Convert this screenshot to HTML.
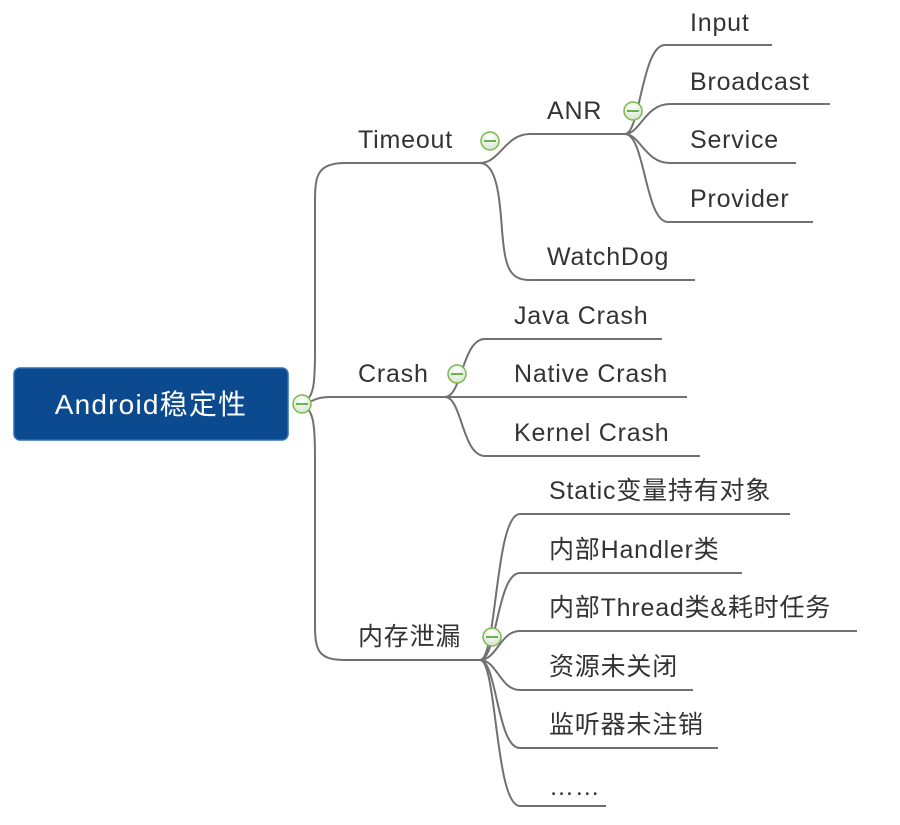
<!DOCTYPE html>
<html><head><meta charset="utf-8"><style>
html,body{margin:0;padding:0;background:#fff;}
svg{display:block}
text{font-family:"Liberation Sans","Noto Sans CJK SC",sans-serif;font-size:25px;fill:#333;letter-spacing:0.8px;}
</style></head><body>
<svg width="900" height="825" viewBox="0 0 900 825" xmlns="http://www.w3.org/2000/svg">
<defs>
<radialGradient id="g" cx="50%" cy="30%" r="70%"><stop offset="0" stop-color="#ffffff"/><stop offset="1" stop-color="#d6e4d0"/></radialGradient>
</defs>
<g fill="none" stroke="#707070" stroke-width="2">
<path d="M300 404 C312 404 312 397 330 397 L445 397"/>
<path d="M306 400 C314 396 315 380 315 350 L315 200 C315 175 318 163 345 163 L480 163"/>
<path d="M306 408 C314 412 315 430 315 460 L315 625 C315 650 318 660 345 660 L480 660"/>
<path d="M480 163 C500 163 505 134 530 134 L625 134"/>
<path d="M480 163 C497 163 500 200 502 230 C505 265 508 280 530 280 L695 280"/>
<path d="M625 134 C640 134 642 45 665 45 L772 45"/>
<path d="M625 134 C640 134 645 104 670 104 L830 104"/>
<path d="M625 134 C640 134 645 163 670 163 L796 163"/>
<path d="M625 134 C645 134 645 222 668 222 L813 222"/>
<path d="M445 397 C462 397 462 339 485 339 L662 339"/>
<path d="M445 397 L687 397"/>
<path d="M445 397 C462 397 462 456 485 456 L700 456"/>
<path d="M480 660 C497 660 495 514 520 514 L790 514"/>
<path d="M480 660 C497 660 497 573 520 573 L742 573"/>
<path d="M480 660 C497 660 500 631 520 631 L857 631"/>
<path d="M480 660 C497 660 500 690 520 690 L693 690"/>
<path d="M480 660 C497 660 497 748 520 748 L718 748"/>
<path d="M480 660 C497 660 495 806 520 806 L606 806"/>
</g>
<rect x="14" y="368" width="274" height="72" rx="6" fill="#0b4a8f" stroke="#2c6fb8" stroke-width="1.5"/>
<text x="151" y="414" text-anchor="middle" style="fill:#fff;font-size:28px;letter-spacing:1.2px">Android稳定性</text>
<g stroke="#7cba4a" stroke-width="1.5" fill="url(#g)">
<circle cx="302" cy="404" r="9"/><circle cx="490" cy="141" r="9"/><circle cx="633" cy="111" r="9"/>
<circle cx="457" cy="374" r="9"/><circle cx="492" cy="637" r="9"/>
</g>
<g stroke="#3d9a1f" stroke-width="1.5">
<line x1="296" y1="404" x2="308" y2="404"/><line x1="484" y1="141" x2="496" y2="141"/>
<line x1="627" y1="111" x2="639" y2="111"/><line x1="451" y1="374" x2="463" y2="374"/>
<line x1="486" y1="637" x2="498" y2="637"/>
</g>
<text x="358" y="148">Timeout</text>
<text x="358" y="382">Crash</text>
<text x="358" y="645">内存泄漏</text>
<text x="547" y="119">ANR</text>
<text x="547" y="265">WatchDog</text>
<text x="690" y="31">Input</text>
<text x="690" y="90">Broadcast</text>
<text x="690" y="148">Service</text>
<text x="690" y="207">Provider</text>
<text x="514" y="324">Java Crash</text>
<text x="514" y="382">Native Crash</text>
<text x="514" y="441">Kernel Crash</text>
<text x="549" y="499">Static变量持有对象</text>
<text x="549" y="558">内部Handler类</text>
<text x="549" y="616">内部Thread类&amp;耗时任务</text>
<text x="549" y="675">资源未关闭</text>
<text x="549" y="733">监听器未注销</text>
<text x="549" y="795">……</text>
</svg>
</body></html>
